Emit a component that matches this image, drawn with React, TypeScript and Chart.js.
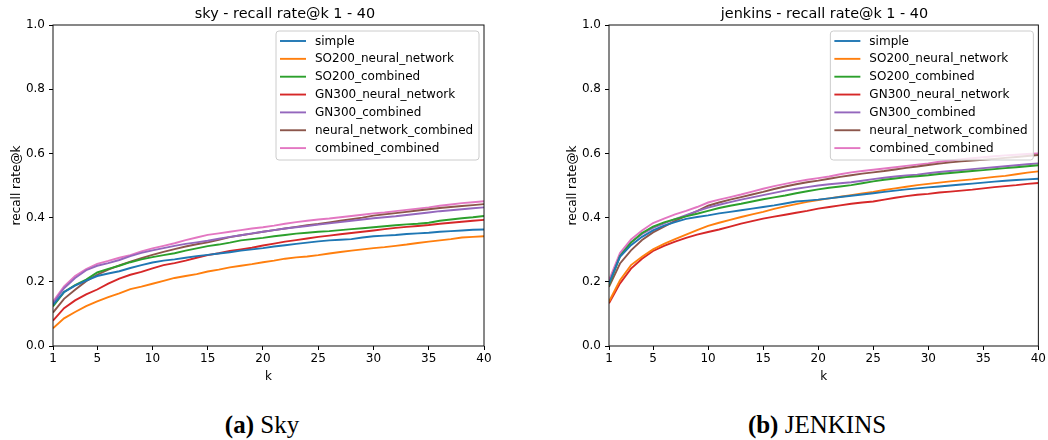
import React, { useEffect, useRef } from "react";
import { Chart, registerables } from "chart.js";

Chart.register(...registerables);

// ---- data ----
const kValues = [1, 2, 3, 4, 5, 6, 7, 8, 9, 10, 11, 12, 13, 14, 15, 16, 17, 18, 19, 20, 21, 22, 23, 24, 25, 26, 27, 28, 29, 30, 31, 32, 33, 34, 35, 36, 37, 38, 39, 40];
const xTicks = [1, 5, 10, 15, 20, 25, 30, 35, 40];
const yTicks = [0, 0.2, 0.4, 0.6, 0.8, 1.0];
const seriesNames = ["simple", "SO200_neural_network", "SO200_combined", "GN300_neural_network", "GN300_combined", "neural_network_combined", "combined_combined"];

const skySimple = [0.128, 0.168, 0.188, 0.204, 0.218, 0.226, 0.233, 0.243, 0.252, 0.260, 0.266, 0.270, 0.275, 0.280, 0.284, 0.288, 0.292, 0.297, 0.301, 0.305, 0.310, 0.314, 0.318, 0.322, 0.326, 0.329, 0.331, 0.333, 0.338, 0.342, 0.344, 0.346, 0.349, 0.351, 0.353, 0.356, 0.358, 0.360, 0.362, 0.363];
const skySO200NN = [0.055, 0.086, 0.106, 0.124, 0.139, 0.152, 0.164, 0.177, 0.185, 0.194, 0.203, 0.212, 0.218, 0.224, 0.232, 0.238, 0.245, 0.250, 0.255, 0.261, 0.266, 0.272, 0.276, 0.279, 0.283, 0.288, 0.293, 0.297, 0.301, 0.305, 0.308, 0.312, 0.316, 0.321, 0.325, 0.329, 0.333, 0.338, 0.340, 0.342];
const skySO200Comb = [0.123, 0.168, 0.190, 0.207, 0.229, 0.240, 0.250, 0.261, 0.270, 0.277, 0.283, 0.289, 0.297, 0.304, 0.311, 0.316, 0.322, 0.329, 0.333, 0.337, 0.342, 0.346, 0.350, 0.353, 0.356, 0.358, 0.361, 0.364, 0.367, 0.370, 0.373, 0.376, 0.379, 0.381, 0.384, 0.390, 0.394, 0.398, 0.401, 0.405];
const skyGN300NN = [0.079, 0.118, 0.142, 0.161, 0.176, 0.194, 0.210, 0.222, 0.231, 0.242, 0.252, 0.258, 0.266, 0.275, 0.283, 0.289, 0.296, 0.301, 0.306, 0.313, 0.319, 0.325, 0.330, 0.335, 0.340, 0.344, 0.348, 0.352, 0.356, 0.360, 0.364, 0.368, 0.371, 0.374, 0.377, 0.381, 0.384, 0.387, 0.390, 0.393];
const skyGN300Comb = [0.133, 0.180, 0.212, 0.236, 0.250, 0.258, 0.268, 0.280, 0.290, 0.298, 0.305, 0.312, 0.318, 0.323, 0.328, 0.334, 0.340, 0.345, 0.351, 0.356, 0.361, 0.366, 0.370, 0.374, 0.378, 0.382, 0.386, 0.390, 0.394, 0.398, 0.401, 0.404, 0.408, 0.412, 0.416, 0.420, 0.423, 0.426, 0.429, 0.432];
const skyNNComb = [0.104, 0.147, 0.175, 0.202, 0.222, 0.238, 0.251, 0.263, 0.274, 0.284, 0.293, 0.302, 0.310, 0.317, 0.323, 0.331, 0.339, 0.345, 0.350, 0.356, 0.361, 0.366, 0.371, 0.376, 0.380, 0.385, 0.390, 0.395, 0.400, 0.406, 0.410, 0.414, 0.418, 0.422, 0.426, 0.430, 0.433, 0.436, 0.439, 0.442];
const skyCombComb = [0.138, 0.186, 0.218, 0.240, 0.256, 0.265, 0.275, 0.283, 0.295, 0.304, 0.312, 0.320, 0.330, 0.338, 0.346, 0.351, 0.356, 0.361, 0.366, 0.370, 0.375, 0.381, 0.386, 0.390, 0.394, 0.397, 0.401, 0.405, 0.409, 0.413, 0.416, 0.420, 0.424, 0.428, 0.432, 0.437, 0.441, 0.445, 0.448, 0.451];

const jenSimple = [0.194, 0.278, 0.314, 0.340, 0.360, 0.375, 0.386, 0.396, 0.402, 0.407, 0.413, 0.418, 0.423, 0.428, 0.433, 0.438, 0.444, 0.450, 0.453, 0.456, 0.460, 0.464, 0.468, 0.472, 0.476, 0.480, 0.484, 0.488, 0.491, 0.494, 0.497, 0.500, 0.503, 0.506, 0.509, 0.512, 0.515, 0.517, 0.519, 0.521];
const jenSO200NN = [0.138, 0.205, 0.252, 0.278, 0.301, 0.318, 0.333, 0.347, 0.361, 0.374, 0.384, 0.393, 0.402, 0.410, 0.418, 0.427, 0.435, 0.442, 0.449, 0.455, 0.460, 0.465, 0.470, 0.475, 0.480, 0.486, 0.491, 0.496, 0.501, 0.505, 0.509, 0.513, 0.516, 0.519, 0.523, 0.527, 0.530, 0.535, 0.540, 0.544];
const jenSO200Comb = [0.190, 0.280, 0.322, 0.352, 0.372, 0.385, 0.395, 0.404, 0.412, 0.421, 0.430, 0.437, 0.443, 0.450, 0.457, 0.463, 0.469, 0.476, 0.482, 0.488, 0.493, 0.497, 0.501, 0.507, 0.513, 0.518, 0.522, 0.526, 0.529, 0.532, 0.536, 0.539, 0.542, 0.545, 0.548, 0.551, 0.554, 0.557, 0.560, 0.563];
const jenGN300NN = [0.133, 0.195, 0.241, 0.272, 0.296, 0.312, 0.325, 0.337, 0.347, 0.355, 0.363, 0.372, 0.381, 0.389, 0.397, 0.403, 0.409, 0.415, 0.421, 0.428, 0.433, 0.438, 0.443, 0.447, 0.450, 0.456, 0.462, 0.467, 0.471, 0.474, 0.478, 0.481, 0.484, 0.487, 0.491, 0.495, 0.498, 0.501, 0.505, 0.508];
const jenGN300Comb = [0.194, 0.282, 0.323, 0.349, 0.368, 0.382, 0.395, 0.408, 0.420, 0.431, 0.440, 0.448, 0.456, 0.463, 0.470, 0.477, 0.484, 0.490, 0.495, 0.500, 0.504, 0.507, 0.510, 0.515, 0.520, 0.524, 0.528, 0.531, 0.534, 0.538, 0.542, 0.545, 0.548, 0.551, 0.554, 0.557, 0.560, 0.563, 0.566, 0.569];
const jenNNComb = [0.184, 0.257, 0.298, 0.330, 0.354, 0.372, 0.390, 0.405, 0.420, 0.437, 0.447, 0.456, 0.464, 0.472, 0.480, 0.489, 0.497, 0.504, 0.510, 0.515, 0.521, 0.527, 0.532, 0.537, 0.541, 0.545, 0.550, 0.555, 0.559, 0.564, 0.568, 0.572, 0.575, 0.578, 0.580, 0.583, 0.586, 0.589, 0.592, 0.595];
const jenCombComb = [0.205, 0.290, 0.332, 0.360, 0.383, 0.397, 0.410, 0.421, 0.433, 0.447, 0.456, 0.464, 0.472, 0.481, 0.490, 0.498, 0.505, 0.512, 0.518, 0.523, 0.528, 0.535, 0.541, 0.545, 0.549, 0.553, 0.557, 0.561, 0.565, 0.569, 0.574, 0.578, 0.582, 0.585, 0.588, 0.591, 0.594, 0.596, 0.598, 0.600];

const skySeries = [skySimple, skySO200NN, skySO200Comb, skyGN300NN, skyGN300Comb, skyNNComb, skyCombComb];
const jenSeries = [jenSimple, jenSO200NN, jenSO200Comb, jenGN300NN, jenGN300Comb, jenNNComb, jenCombComb];

// ---- styles ----
const colors = ["#1f77b4", "#ff7f0e", "#2ca02c", "#d62728", "#9467bd", "#8c564b", "#e377c2"];
const FONT = "'DejaVu Sans', sans-serif";
const CW = 524;
const CH = 390;

const decorPlugin = {
  id: "decor",
  afterDatasetsDraw(chart: any) {
    const ctx = chart.ctx;
    const a = chart.chartArea;
    // legend
    const bw = 203, bh = 129;
    const bx = a.right - 5 - bw;
    const by = a.top + 6;
    ctx.save();
    ctx.beginPath();
    const r = 3;
    ctx.moveTo(bx + r, by);
    ctx.arcTo(bx + bw, by, bx + bw, by + bh, r);
    ctx.arcTo(bx + bw, by + bh, bx, by + bh, r);
    ctx.arcTo(bx, by + bh, bx, by, r);
    ctx.arcTo(bx, by, bx + bw, by, r);
    ctx.closePath();
    ctx.fillStyle = "rgba(255,255,255,0.8)";
    ctx.fill();
    ctx.strokeStyle = "#cccccc";
    ctx.lineWidth = 1;
    ctx.stroke();
    ctx.font = `12px ${FONT}`;
    ctx.textBaseline = "middle";
    ctx.textAlign = "left";
    chart.data.datasets.forEach((ds: any, i: number) => {
      const cy = by + 10 + i * 17.85;
      ctx.beginPath();
      ctx.moveTo(bx + 4, cy);
      ctx.lineTo(bx + 30, cy);
      ctx.strokeStyle = ds.borderColor;
      ctx.lineWidth = 1.9;
      ctx.stroke();
      ctx.fillStyle = "#000";
      ctx.fillText(ds.label, bx + 39, cy + 0.5);
    });
    ctx.restore();
  },
  afterDraw(chart: any, _args: any, opts: any) {
    const ctx = chart.ctx;
    const a = chart.chartArea;
    ctx.save();
    // frame
    ctx.strokeStyle = "#111";
    ctx.lineWidth = 1;
    ctx.strokeRect(a.left, a.top, a.right - a.left, a.bottom - a.top);
    // title
    ctx.fillStyle = "#000";
    ctx.font = `14.4px ${FONT}`;
    ctx.textAlign = "center";
    ctx.textBaseline = "alphabetic";
    ctx.fillText(opts.title, opts.titleX, 18);
    // x axis title
    ctx.font = `12px ${FONT}`;
    ctx.fillText("k", (a.left + a.right) / 2, 380);
    // y axis title
    ctx.translate(a.left - 33, (a.top + a.bottom) / 2);
    ctx.rotate(-Math.PI / 2);
    ctx.fillText("recall rate@k", 0, 0);
    ctx.restore();
  },
};

function RecallChart(props: { title: string; titleX: number; series: number[][]; left: number; plotLeft: number; plotRight: number }) {
  const ref = useRef<HTMLCanvasElement | null>(null);
  useEffect(() => {
    const tickFont = { family: FONT, size: 12 };
    const chart = new Chart(ref.current as HTMLCanvasElement, {
      type: "line",
      data: {
        datasets: props.series.map((s, i) => ({
          label: seriesNames[i],
          data: kValues.map((k, j) => ({ x: k, y: s[j] })),
          borderColor: colors[i],
          backgroundColor: colors[i],
          borderWidth: 1.9,
          pointRadius: 0,
          tension: 0,
          fill: false,
        })),
      },
      options: {
        responsive: false,
        animation: false,
        devicePixelRatio: 1,
        layout: { padding: { left: 0, right: CW - props.plotRight, top: 25, bottom: 0 } },
        plugins: {
          legend: { display: false },
          title: { display: false },
          tooltip: { enabled: false },
          decor: { title: props.title, titleX: props.titleX },
        } as any,
        scales: {
          x: {
            type: "linear",
            min: 1,
            max: 40,
            afterBuildTicks: (s: any) => {
              s.ticks = xTicks.map((v) => ({ value: v }));
            },
            afterFit: (s: any) => {
              s.height = CH - 346;
            },
            grid: { drawOnChartArea: false, color: "#000", tickLength: 4, lineWidth: 1 },
            border: { display: false },
            ticks: { color: "#000", font: tickFont, padding: 2, maxRotation: 0, autoSkip: false },
          },
          y: {
            type: "linear",
            min: 0,
            max: 1,
            afterBuildTicks: (s: any) => {
              s.ticks = yTicks.map((v) => ({ value: v }));
            },
            afterFit: (s: any) => {
              s.width = props.plotLeft;
            },
            grid: { drawOnChartArea: false, color: "#000", tickLength: 4, lineWidth: 1 },
            border: { display: false },
            ticks: {
              color: "#000",
              font: tickFont,
              padding: 4,
              autoSkip: false,
              callback: (v: any) => Number(v).toFixed(1),
            },
          },
        },
      } as any,
      plugins: [decorPlugin as any],
    });
    return () => chart.destroy();
  }, []);
  return (
    <canvas
      ref={ref}
      width={CW}
      height={CH}
      style={{ position: "absolute", left: props.left, top: 0, width: CW, height: CH }}
    />
  );
}

const captionStyle = (center: number): React.CSSProperties => ({
  position: "absolute",
  left: center - 150,
  width: 300,
  top: 412,
  textAlign: "center",
  fontFamily: "'Liberation Serif', serif",
  fontSize: 25,
  lineHeight: "25px",
  color: "#000",
  whiteSpace: "nowrap",
});

export default function App() {
  return (
    <div style={{ position: "absolute", left: 0, top: 0, width: 1048, height: 440, background: "#fff", overflow: "hidden" }}>
      <RecallChart title="sky - recall rate@k 1 - 40" titleX={285} series={skySeries} left={0} plotLeft={53} plotRight={484} />
      <RecallChart title="jenkins - recall rate@k 1 - 40" titleX={300.5} series={jenSeries} left={524} plotLeft={85} plotRight={516} />
      <div style={captionStyle(262)}>
        <b>(a)</b> Sky
      </div>
      <div style={captionStyle(817)}>
        <b>(b)</b> JENKINS
      </div>
    </div>
  );
}
